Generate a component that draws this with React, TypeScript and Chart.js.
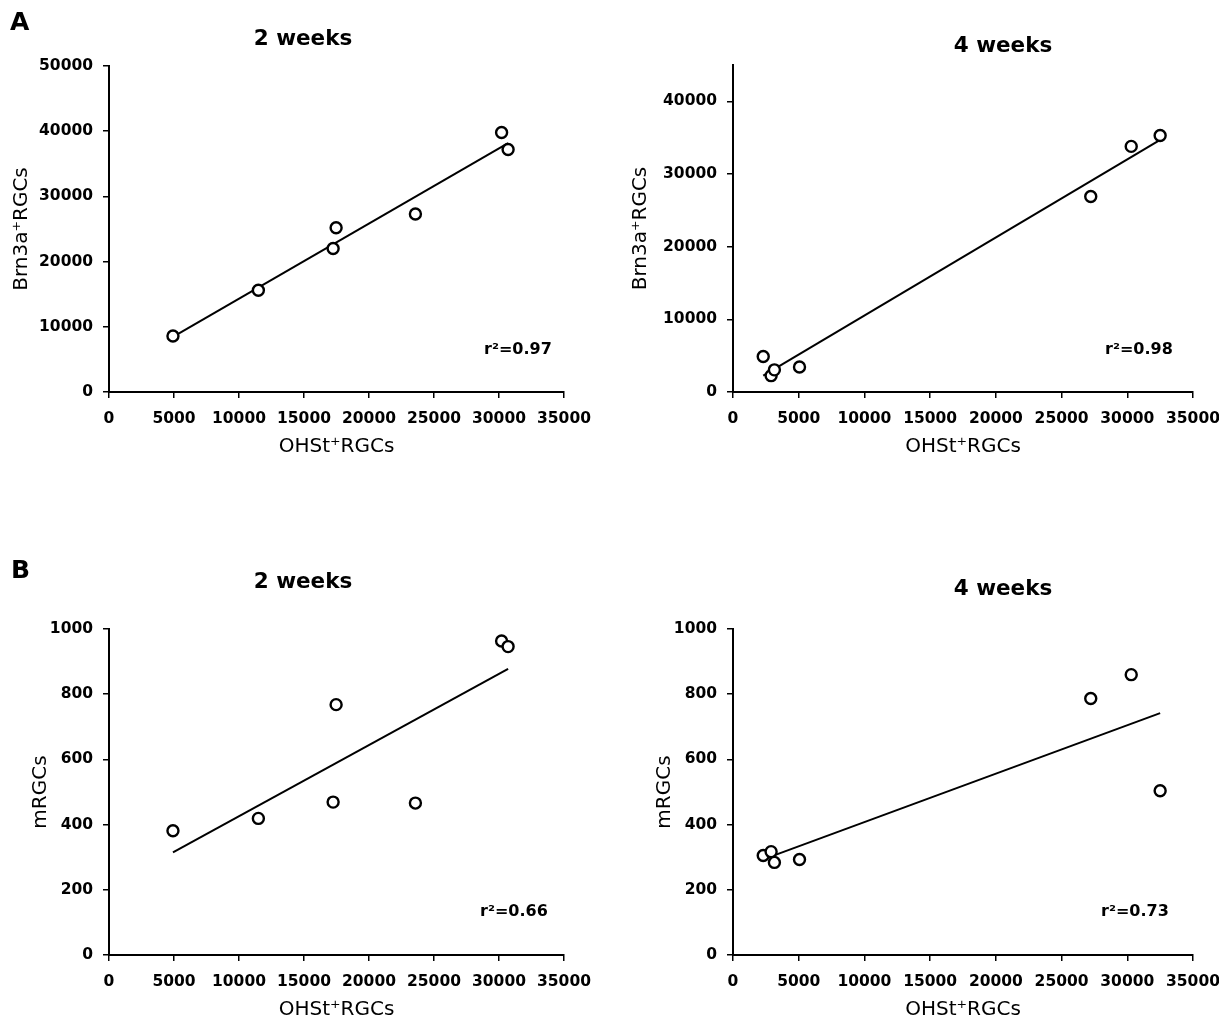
import React, { useEffect, useRef } from 'react';
import { Chart, registerables } from 'chart.js';

Chart.register(...registerables);

const FONT = '"DejaVu Sans", "Liberation Sans", sans-serif';

// ---- data ----
const weeks2OHSt = [4920, 11490, 17240, 17470, 23570, 30200, 30700];
const weeks2Brn3a = [8600, 15600, 22000, 25200, 27300, 39800, 37200];
const weeks2mRGC = [381, 419, 469, 768, 466, 963, 946];

const weeks4OHSt = [2300, 2900, 3150, 5060, 27220, 30300, 32500];
const weeks4Brn3a = [4880, 2250, 3050, 3450, 26900, 33800, 35300];
const weeks4mRGC = [305, 317, 284, 293, 787, 860, 504];

const xTitle = 'OHSt⁺RGCs';
const brnTitle = 'Brn3a⁺RGCs';
const mTitle = 'mRGCs';
const panelTitles = ['2 weeks', '4 weeks', '2 weeks', '4 weeks'];
const rSquaredLabels = ['r²=0.97', 'r²=0.98', 'r²=0.66', 'r²=0.73'];
const panelLetters = ['A', 'B'];

const xMax = 35000;
const xTicks = [0, 5000, 10000, 15000, 20000, 25000, 30000, 35000];
const yMaxes = [50000, 45000, 1000, 1000];
const yTicksBrn2 = [0, 10000, 20000, 30000, 40000, 50000];
const yTicksBrn4 = [0, 10000, 20000, 30000, 40000];
const yTicksM = [0, 200, 400, 600, 800, 1000];

function fitLine(xs: number[], ys: number[]) {
  const n = xs.length;
  const mx = xs.reduce((a, b) => a + b, 0) / n;
  const my = ys.reduce((a, b) => a + b, 0) / n;
  let sxy = 0;
  let sxx = 0;
  for (let i = 0; i < n; i++) {
    sxy += (xs[i] - mx) * (ys[i] - my);
    sxx += (xs[i] - mx) * (xs[i] - mx);
  }
  const slope = sxy / sxx;
  const intercept = my - slope * mx;
  const x0 = Math.min(...xs);
  const x1 = Math.max(...xs);
  return [
    { x: x0, y: intercept + slope * x0 },
    { x: x1, y: intercept + slope * x1 },
  ];
}

const textPlugin = {
  id: 'panelText',
  afterDraw(chart: any, _args: any, opts: any) {
    const ctx = chart.ctx;
    ctx.save();
    ctx.fillStyle = '#000';
    ctx.textBaseline = 'alphabetic';
    for (const t of opts.items || []) {
      ctx.font = t.font;
      ctx.textAlign = t.align || 'left';
      ctx.fillText(t.text, t.x, t.y);
    }
    ctx.restore();
  },
};

type PanelCfg = {
  rect: { left: number; top: number; width: number; height: number };
  area: { l: number; r: number; t: number; b: number };
  xs: number[];
  ys: number[];
  yMax: number;
  yTicks: number[];
  yTitle: string;
  yTitleX: number;
  texts: { text: string; x: number; y: number; font: string; align?: string }[];
};

function Panel({ cfg }: { cfg: PanelCfg }) {
  const ref = useRef<HTMLCanvasElement | null>(null);
  useEffect(() => {
    const c = cfg;
    const xH = 67;
    const yW = c.area.l - c.rect.left;
    const padTop = c.area.t - c.rect.top;
    const padRight = c.rect.left + c.rect.width - c.area.r;
    const padBottom = c.rect.top + c.rect.height - c.area.b - xH;
    const titleSize = 20;
    const titleLH = titleSize * 1.2;
    const yTitlePad = c.yTitleX - c.rect.left - titleLH / 2;
    const tickFont = { family: FONT, size: 15.5, weight: 'bold' as const };
    const items = c.texts.map((t) => ({ ...t, x: t.x - c.rect.left, y: t.y - c.rect.top }));

    const chart = new Chart(ref.current as HTMLCanvasElement, {
      type: 'scatter',
      data: {
        datasets: [
          {
            type: 'scatter',
            data: c.xs.map((x, i) => ({ x, y: c.ys[i] })),
            pointStyle: 'circle',
            pointRadius: 5.5,
            pointBorderWidth: 2.4,
            borderColor: '#000',
            backgroundColor: '#fff',
            order: 0,
          } as any,
          {
            type: 'line',
            data: fitLine(c.xs, c.ys),
            borderColor: '#000',
            borderWidth: 2,
            pointRadius: 0,
            fill: false,
            tension: 0,
            order: 1,
          } as any,
        ],
      },
      options: {
        animation: false,
        responsive: false,
        events: [],
        layout: {
          autoPadding: false,
          padding: { left: 0, top: padTop, right: padRight, bottom: padBottom },
        },
        plugins: {
          legend: { display: false },
          tooltip: { enabled: false },
          title: { display: false },
          panelText: { items },
        } as any,
        scales: {
          x: {
            type: 'linear',
            min: 0,
            max: xMax,
            ticks: {
              color: '#000',
              font: tickFont,
              padding: 12,
              maxRotation: 0,
              minRotation: 0,
              autoSkip: false,
              callback: (v: any) => String(v),
            },
            afterBuildTicks: (s: any) => {
              s.ticks = xTicks.map((v) => ({ value: v }));
            },
            grid: { drawOnChartArea: false, drawTicks: true, tickLength: 6, color: '#000', lineWidth: 1.5 },
            border: { display: true, color: '#000', width: 2 },
            title: {
              display: true,
              text: xTitle,
              color: '#000',
              font: { family: FONT, size: titleSize },
              padding: { top: 0, bottom: 0 },
            },
            afterFit: (s: any) => {
              s.height = xH;
              s.paddingLeft = 0;
              s.paddingRight = 0;
            },
          },
          y: {
            type: 'linear',
            min: 0,
            max: c.yMax,
            ticks: {
              color: '#000',
              font: tickFont,
              padding: 10,
              autoSkip: false,
              callback: (v: any) => String(v),
            },
            afterBuildTicks: (s: any) => {
              s.ticks = c.yTicks.map((v) => ({ value: v }));
            },
            grid: { drawOnChartArea: false, drawTicks: true, tickLength: 6, color: '#000', lineWidth: 1.5 },
            border: { display: true, color: '#000', width: 2 },
            title: {
              display: true,
              text: c.yTitle,
              color: '#000',
              font: { family: FONT, size: titleSize },
              padding: { top: yTitlePad, bottom: 0 },
            },
            afterFit: (s: any) => {
              s.width = yW;
              s.paddingTop = 0;
              s.paddingBottom = 0;
            },
          },
        } as any,
      },
      plugins: [textPlugin as any],
    });
    return () => chart.destroy();
  }, [cfg]);

  return (
    <canvas
      ref={ref}
      width={cfg.rect.width}
      height={cfg.rect.height}
      style={{
        position: 'absolute',
        left: cfg.rect.left,
        top: cfg.rect.top,
        width: cfg.rect.width,
        height: cfg.rect.height,
      }}
    />
  );
}

const titleFont = `bold 21.5px ${FONT}`;
const rFont = `bold 16px ${FONT}`;
const letterFont = `bold 25px ${FONT}`;

const panels: PanelCfg[] = [
  {
    rect: { left: 0, top: 0, width: 600, height: 480 },
    area: { l: 109, r: 564, t: 66, b: 392 },
    xs: weeks2OHSt,
    ys: weeks2Brn3a,
    yMax: yMaxes[0],
    yTicks: yTicksBrn2,
    yTitle: brnTitle,
    yTitleX: 22,
    texts: [
      { text: panelLetters[0], x: 10, y: 30, font: letterFont },
      { text: panelTitles[0], x: 303, y: 45, font: titleFont, align: 'center' },
      { text: rSquaredLabels[0], x: 484, y: 354, font: rFont },
    ],
  },
  {
    rect: { left: 610, top: 0, width: 609, height: 480 },
    area: { l: 733, r: 1193, t: 65, b: 392 },
    xs: weeks4OHSt,
    ys: weeks4Brn3a,
    yMax: yMaxes[1],
    yTicks: yTicksBrn4,
    yTitle: brnTitle,
    yTitleX: 641,
    texts: [
      { text: panelTitles[1], x: 1003, y: 52, font: titleFont, align: 'center' },
      { text: rSquaredLabels[1], x: 1105, y: 354, font: rFont },
    ],
  },
  {
    rect: { left: 0, top: 520, width: 600, height: 505 },
    area: { l: 109, r: 564, t: 629, b: 955 },
    xs: weeks2OHSt,
    ys: weeks2mRGC,
    yMax: yMaxes[2],
    yTicks: yTicksM,
    yTitle: mTitle,
    yTitleX: 41,
    texts: [
      { text: panelLetters[1], x: 11, y: 578, font: letterFont },
      { text: panelTitles[2], x: 303, y: 588, font: titleFont, align: 'center' },
      { text: rSquaredLabels[2], x: 480, y: 916, font: rFont },
    ],
  },
  {
    rect: { left: 610, top: 520, width: 609, height: 505 },
    area: { l: 733, r: 1193, t: 629, b: 955 },
    xs: weeks4OHSt,
    ys: weeks4mRGC,
    yMax: yMaxes[3],
    yTicks: yTicksM,
    yTitle: mTitle,
    yTitleX: 665,
    texts: [
      { text: panelTitles[3], x: 1003, y: 595, font: titleFont, align: 'center' },
      { text: rSquaredLabels[3], x: 1101, y: 916, font: rFont },
    ],
  },
];

export default function App() {
  return (
    <div
      style={{
        position: 'absolute',
        left: 0,
        top: 0,
        width: 1219,
        height: 1025,
        background: '#fff',
        overflow: 'hidden',
      }}
    >
      {panels.map((p, i) => (
        <Panel key={i} cfg={p} />
      ))}
    </div>
  );
}
